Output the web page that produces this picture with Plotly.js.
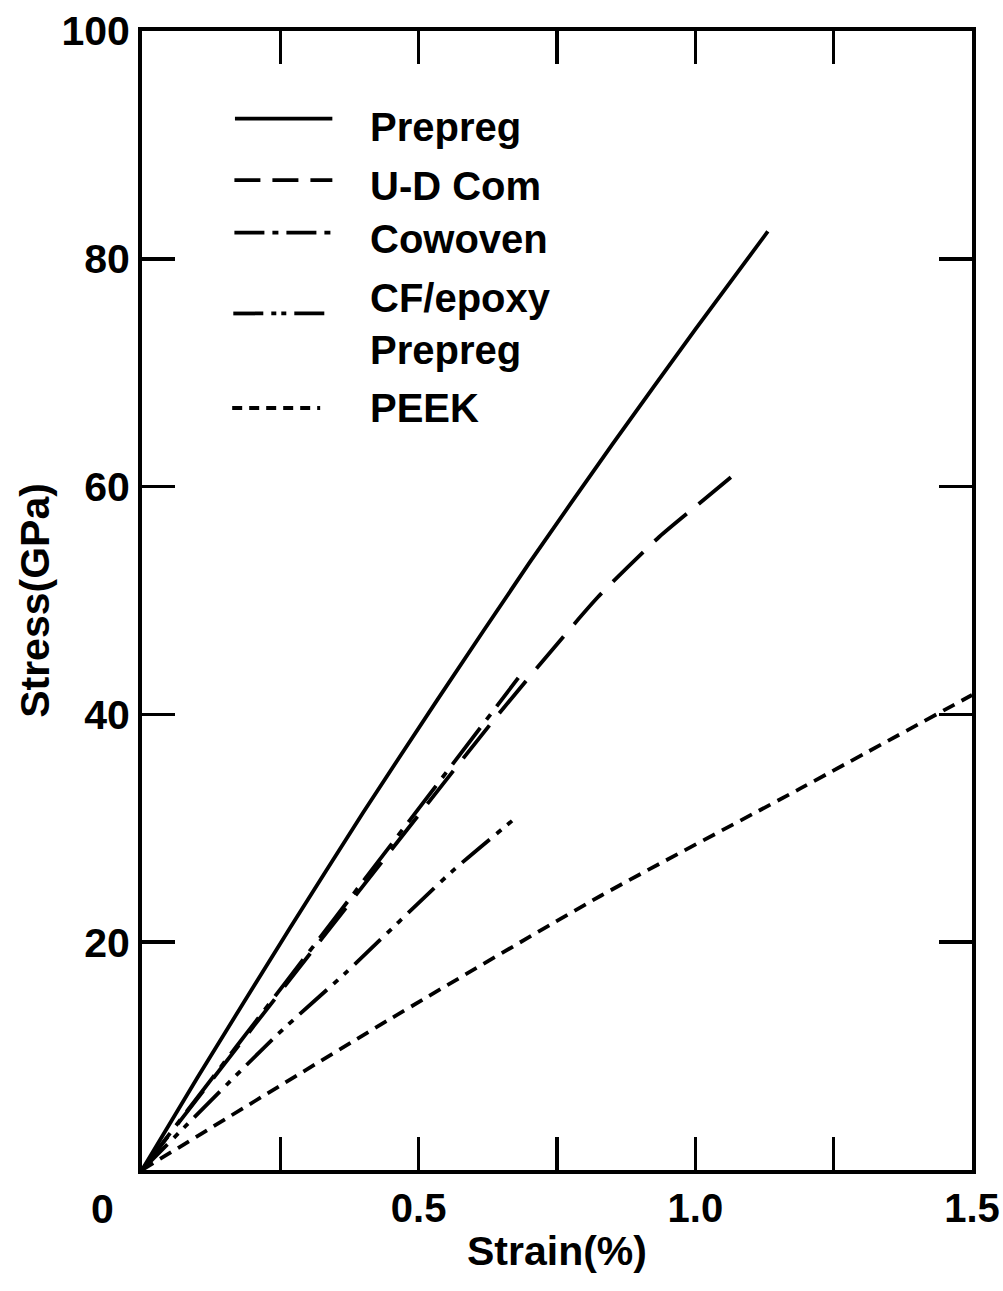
<!DOCTYPE html>
<html>
<head>
<meta charset="utf-8">
<script src="https://cdn.plot.ly/plotly-3.0.1.min.js"></script>
<style>
html,body{margin:0;padding:0;background:#fff;}
#chart{width:1003px;height:1291px;}
</style>
</head>
<body>
<div id="chart"></div>
<script>
// ---- data ----
const seriesNames = ["Prepreg", "U-D Com", "Cowoven", "CF/epoxy<br>Prepreg", "PEEK"];

const prepregStrain = [0, 0.10, 0.268, 0.40, 0.534, 0.70, 0.85, 1.00, 1.131];
const prepregStress = [0, 8.1, 21.3, 31.4, 41.3, 53.3, 63.7, 73.8, 82.4];

const udStrain = [0, 0.32, 0.644, 0.824, 0.935, 1.004, 1.081];
const udStress = [0, 20.0, 40.0, 50.3, 55.6, 58.4, 61.5];

const cowovenStrain = [0, 0.17, 0.35, 0.52, 0.68];
const cowovenStress = [0, 10.8, 22.2, 33.0, 43.2];

const cfStrain = [0, 0.245, 0.37, 0.56, 0.67];
const cfStress = [0, 11.9, 17.4, 26.2, 30.7];

const peekStrain = [0, 0.45, 0.83, 1.19, 1.50];
const peekStress = [0, 13.3, 24.1, 33.5, 41.7];

const xTickVals = [0.25, 0.5, 0.75, 1.0, 1.25, 1.5];
const xTickText = ["", "0.5", "", "1.0", "", "1.5"];
const yTickVals = [20, 40, 60, 80, 100];
const yTickText = ["20", "40", "60", "80", "100"];

// ---- styles ----
const FONT = "Liberation Sans, Arial, Helvetica, sans-serif";
const LW = 3.8;
const dashes = ["solid", "42px,16px", "46px,10px,7px,10px", "36px,9px,6px,8px,6px,9px", "13px,8px"];
const legendDashes = ["solid", "26px,12px", "30px,8px,6px,8px", "30px,8px,5px,5px,5px,8px", "10px,7px"];

const xs = [prepregStrain, udStrain, cowovenStrain, cfStrain, peekStrain];
const ys = [prepregStress, udStress, cowovenStress, cfStress, peekStress];

const traces = xs.map((x, i) => ({
  x: x, y: ys[i], type: "scatter", mode: "lines", name: seriesNames[i],
  line: {color: "#000", width: LW, dash: dashes[i], shape: "spline", smoothing: 0.6},
  showlegend: false, hoverinfo: "skip"
}));

// legend built from shapes + annotations (positions in data units)
const legY = [92.3, 86.9, 82.3, 75.2, 66.9];
const legX0 = [0.168, 0.167, 0.167, 0.165, 0.163];
const legX1 = [0.344, 0.344, 0.348, 0.342, 0.322];
const legTextY = [91.6, 86.4, 81.7, 74.3, 66.9];
const legTextX = 0.408;

const shapes = legY.map((y, i) => ({
  type: "line", xref: "x", yref: "y", x0: legX0[i], x1: legX1[i], y0: y, y1: y,
  line: {color: "#000", width: LW, dash: legendDashes[i]}
}));

const annotations = seriesNames.map((t, i) => ({
  xref: "x", yref: "y", x: legTextX, y: legTextY[i], text: t,
  showarrow: false, xanchor: "left", yanchor: "middle", align: "left",
  font: {family: FONT, size: 40, color: "#000", weight: "bold"}
}));
annotations.push({
  xref: "x", yref: "paper", x: 0, y: 0, text: "0", showarrow: false,
  xanchor: "center", yanchor: "top", xshift: -40, yshift: -14,
  font: {family: FONT, size: 41, color: "#000", weight: "bold"}
});

const layout = {
  width: 1003, height: 1291,
  margin: {l: 142, r: 31, t: 31, b: 121, pad: 0},
  paper_bgcolor: "#fff", plot_bgcolor: "#fff",
  showlegend: false,
  font: {family: FONT, size: 41, color: "#000", weight: "bold"},
  xaxis: {
    range: [0, 1.5], tickmode: "array", tickvals: xTickVals, ticktext: xTickText,
    ticks: "inside", ticklen: 33, tickwidth: 3.5, tickcolor: "#000",
    showline: true, linewidth: 4, linecolor: "#000", mirror: "ticks",
    showgrid: false, zeroline: false, automargin: false, ticklabeloverflow: "allow",
    tickfont: {family: FONT, size: 40, color: "#000", weight: "bold"},
    title: {text: "Strain(%)\u00a0\u00a0\u00a0", standoff: 8,
            font: {family: FONT, size: 41, color: "#000", weight: "bold"}}
  },
  yaxis: {
    range: [0, 100], tickmode: "array", tickvals: yTickVals, ticktext: yTickText,
    ticks: "inside", ticklen: 33, tickwidth: 3.5, tickcolor: "#000",
    showline: true, linewidth: 4, linecolor: "#000", mirror: "ticks",
    showgrid: false, zeroline: false, automargin: false, ticklabeloverflow: "allow",
    tickfont: {family: FONT, size: 41, color: "#000", weight: "bold"},
    title: {text: "\u00a0\u00a0Stress(GPa)", standoff: 0,
            font: {family: FONT, size: 41, color: "#000", weight: "bold"}}
  },
  shapes: shapes,
  annotations: annotations
};

Plotly.newPlot("chart", traces, layout, {displayModeBar: false, staticPlot: true});
</script>
</body>
</html>
